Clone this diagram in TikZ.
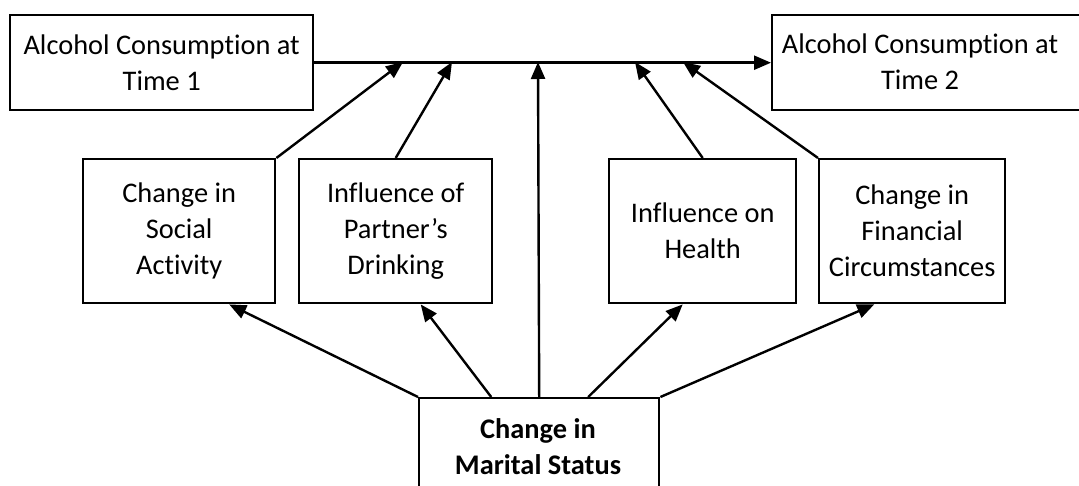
\documentclass[tikz,border=0pt]{standalone}
\usepackage{fontspec}
\setmainfont{Carlito}[Ligatures=NoCommon]
\usetikzlibrary{arrows.meta}
\begin{document}
\begin{tikzpicture}[x=1pt,y=-1pt,
  box/.style={draw, line width=2.4pt, inner sep=0pt, anchor=north west,
              align=center, font=\fontsize{28.4}{36}\selectfont},
  lbl/.style={align=center, inner sep=0pt, font=\fontsize{28.4}{36}\selectfont},
  conn/.style={line width=2.4pt},
  arr/.style={conn, -{Triangle[length=17pt,width=14pt]}}]
\useasboundingbox (0,0) rectangle (1079,486);
\clip (0,0) rectangle (1079,486);

% outcome boxes
\node[box, minimum width=303, minimum height=95] (t1) at (9,14)
  {Alcohol Consumption at\\Time 1};
\node[box, minimum width=330, minimum height=95] (t2) at (771,14) {};
\node[lbl] (t2text) at (920,61.5) {Alcohol Consumption at\\Time 2};

% mediating boxes
\node[box, minimum width=192, minimum height=144] (soc) at (82,158)
  {Change in\\Social\\Activity};
\node[box, minimum width=193, minimum height=144] (par) at (298,158)
  {Influence of\\Partner’s\\Drinking};
\node[box, minimum width=187, minimum height=144] (hea) at (608,158)
  {Influence on\\Health};
\node[box, minimum width=186, minimum height=144] (fin) at (818,158)
  {Change in\\Financial\\Circumstances};

% predictor box
\node[box, minimum width=240, minimum height=140] (mar) at (418,397) {};
\node[lbl, font=\fontsize{28.4}{36}\selectfont\bfseries] (martext) at (538,447)
  {Change in\\Marital Status};

% points where paths meet the main line
\coordinate (a1) at (403,62);
\coordinate (a2) at (452,62);
\coordinate (a3) at (538,62);
\coordinate (a4) at (635,62);
\coordinate (a5) at (683,62);

% main line
\draw[arr] (t1.east) -- (t2.west);

% mediators into the main line
\draw[arr] (soc.north east) -- (a1);
\draw[arr] (par.north) -- (a2);
\draw[arr] (mar.north) -- (a3);
\draw[arr] (hea.north) -- (a4);
\draw[arr] (fin.north west) -- (a5);

% predictor into mediators
\draw[arr] (mar.north west) -- ([xshift=50]soc.south);
\draw[arr] ([xshift=-48]mar.north) -- ([xshift=25]par.south);
\draw[arr] ([xshift=49]mar.north) -- ([xshift=-20]hea.south);
\draw[arr] (mar.north east) -- ([xshift=-38]fin.south);
\end{tikzpicture}
\end{document}
